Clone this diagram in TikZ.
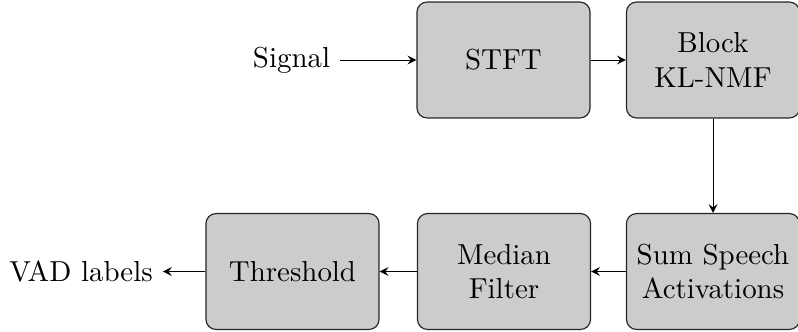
\documentclass[tikz,border=0pt]{standalone}
\usetikzlibrary{arrows}
\begin{document}
\begin{tikzpicture}[x=0.3460pt,y=-0.3460pt,
  blk/.style={draw=black!85, fill=gray!40, rounded corners=3.5pt, align=center,
    minimum width=59.9pt, minimum height=40.1pt, inner sep=0pt, line width=0.4pt},
  conn/.style={-stealth, line width=0.35pt}]
\useasboundingbox (0,0) rectangle (798,331);
\node[blk] (stft) at (503.5,60) {STFT};
\node[blk] (nmf) at (713,60) {Block\\KL-NMF};
\node[blk] (sum) at (713,271.5) {Sum Speech\\Activations};
\node[blk] (med) at (504,271.5) {Median\\Filter};
\node[blk] (thr) at (292.5,271.5) {Threshold};
\node (sig) at (291.5,60) {Signal};
\node (vad) at (81,271.5) {VAD labels};
\draw[conn] (sig) -- (stft);
\draw[conn] (stft) -- (nmf);
\draw[conn] (nmf) -- (sum);
\draw[conn] (sum) -- (med);
\draw[conn] (med) -- (thr);
\draw[conn] (thr) -- (vad);
\end{tikzpicture}
\end{document}
